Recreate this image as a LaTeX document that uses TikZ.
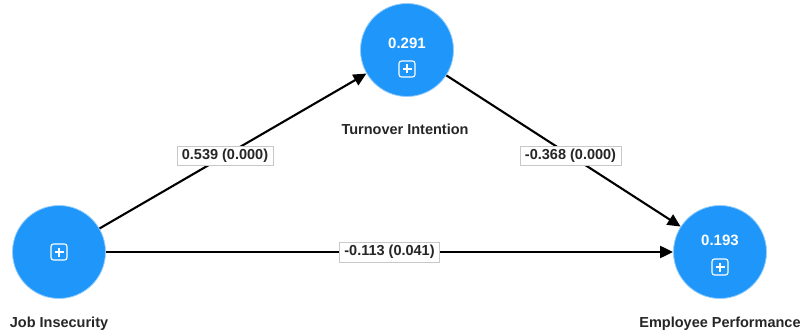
\documentclass[tikz,border=0pt]{standalone}
\usepackage{fontspec}
\setmainfont{Liberation Sans}
\usetikzlibrary{arrows.meta,calc}
\definecolor{nodeblue}{RGB}{30,150,250}
\definecolor{rimblue}{RGB}{150,205,250}
\definecolor{lblgray}{RGB}{200,200,200}
\tikzset{
  lv/.style={circle, fill=nodeblue, draw=rimblue, line width=0.8pt, minimum size=93pt, inner sep=0pt},
  nm/.style={font=\bfseries\fontsize{14.5}{16}\selectfont, text=black!85},
  val/.style={font=\bfseries\fontsize{15}{17}\selectfont, text=white},
  conn/.style={-{Triangle[length=13pt,width=12pt]}, line width=2.1pt, black},
  elab/.style={fill=white, draw=lblgray, line width=0.5pt, font=\bfseries\fontsize{14.5}{16}\selectfont, inner xsep=5pt, inner ysep=3pt, text=black!85},
}
\newcommand{\plusicon}[1]{%
  \draw[white, line width=1.1pt, rounded corners=2.5pt] ($(#1)+(-8,-8)$) rectangle ($(#1)+(8,8)$);
  \draw[white, line width=1.1pt] ($(#1)+(-4.5,0)$) -- ($(#1)+(4.5,0)$) ($(#1)+(0,-4.5)$) -- ($(#1)+(0,4.5)$);}
\begin{document}
\begin{tikzpicture}[x=1pt,y=-1pt]
\useasboundingbox (0,0) rectangle (806,334);
\node[lv] (ti) at (407,50) {};
\node[lv] (ji) at (59,252) {};
\node[lv] (ep) at (720,252) {};
\node[val] (tiv) at (407,43) {0.291};
\node[val] (epv) at (720,240) {0.193};
\coordinate (tip) at (407,69);
\coordinate (jip) at (59,252);
\coordinate (epp) at (720,267);
\plusicon{tip}
\plusicon{jip}
\plusicon{epp}
\node[nm] (til) at (405,129) {Turnover Intention};
\node[nm] (jil) at (59,324) {Job Insecurity};
\node[nm] (epl) at (720,324) {Employee Performance};
\draw[conn] (ji) -- (ti) node[elab, pos=0.47] (e1) {0.539 (0.000)};
\draw[conn] (ti) -- (ep) node[elab, pos=0.53] (e2) {-0.368 (0.000)};
\draw[conn] (ji) -- (ep) node[elab, pos=0.5] (e3) {-0.113 (0.041)};
\end{tikzpicture}
\end{document}
